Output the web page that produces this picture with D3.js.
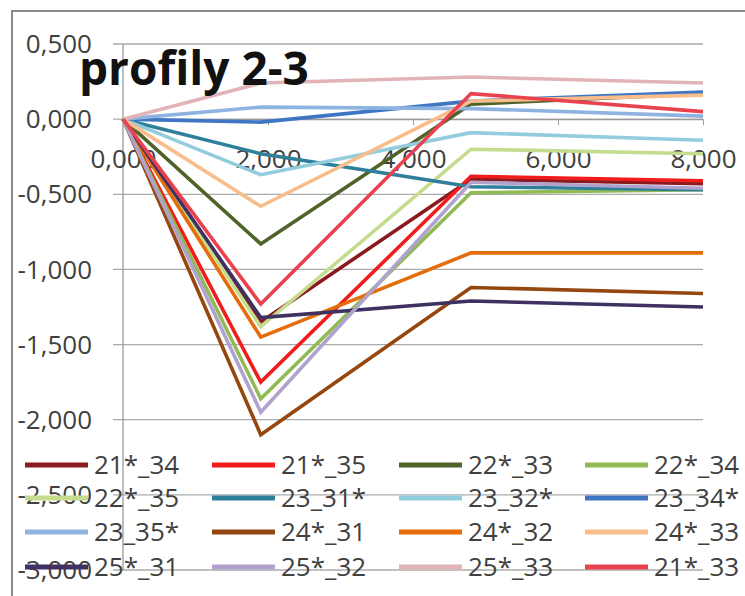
<!DOCTYPE html>
<html><head><meta charset="utf-8">
<script src="https://cdn.jsdelivr.net/npm/d3@7/dist/d3.min.js"></script>
<style>body{margin:0;background:#fff;} svg{display:block;}</style>
</head><body>
<svg id="c" width="745" height="596"></svg>
<script>
const xValues = [0, 1.9, 4.8, 8];
const seriesNames = ["21*_34","21*_35","22*_33","22*_34","22*_35","23_31*","23_32*","23_34*","23_35*","24*_31","24*_32","24*_33","25*_31","25*_32","25*_33","21*_33"];
const seriesColors = ["#8b1a1f","#f21c1c","#4f6228","#8fba54","#c5dc8e","#2f7f9a","#93cddd","#3f76c4","#8fb3e0","#94470f","#e46c0a","#f9bd8c","#3f3161","#b0a2cc","#e2b4b8","#e8424f"];
const s21_34 = [0, -1.35, -0.40, -0.43];
const s21_35 = [0, -1.75, -0.38, -0.41];
const s22_33 = [0, -0.83, 0.10, 0.17];
const s22_34 = [0, -1.86, -0.49, -0.47];
const s22_35 = [0, -1.38, -0.20, -0.23];
const s23_31 = [0, -0.23, -0.45, -0.47];
const s23_32 = [0, -0.37, -0.09, -0.14];
const s23_34 = [0, -0.02, 0.12, 0.18];
const s23_35 = [0, 0.08, 0.07, 0.02];
const s24_31 = [0, -2.10, -1.12, -1.16];
const s24_32 = [0, -1.45, -0.89, -0.89];
const s24_33 = [0, -0.58, 0.12, 0.16];
const s25_31 = [0, -1.32, -1.21, -1.25];
const s25_32 = [0, -1.95, -0.42, -0.46];
const s25_33 = [0, 0.24, 0.28, 0.24];
const s21_33 = [0, -1.23, 0.17, 0.05];
const seriesValues = [s21_34,s21_35,s22_33,s22_34,s22_35,s23_31,s23_32,s23_34,s23_35,s24_31,s24_32,s24_33,s25_31,s25_32,s25_33,s21_33];
const yTicks = [0.5, 0, -0.5, -1, -1.5, -2, -2.5, -3];
const xTicks = [0, 2, 4, 6, 8];
const titleText = "profily 2-3";

const svg = d3.select("#c");
const loc = d3.formatLocale({decimal: ",", thousands: ".", grouping: [3], currency: ["", ""], minus: "-"});
const fmt = loc.format(".3f");

const x = d3.scaleLinear().domain([0, 8]).range([123, 703]);
const y = d3.scaleLinear().domain([-3, 0.5]).range([570, 44]);

// chart border
svg.append("rect").attr("x", 12).attr("y", 11).attr("width", 800).attr("height", 700)
  .attr("fill", "none").attr("stroke", "#8a8a8a").attr("stroke-width", 2);

// gridlines
const grid = svg.append("g");
grid.selectAll("line").data(yTicks).join("line")
  .attr("x1", x(0) - 10).attr("x2", x(8))
  .attr("y1", d => y(d)).attr("y2", d => y(d))
  .attr("stroke", "#ababab").attr("stroke-width", 1.3);

// y axis line
svg.append("line").attr("x1", x(0)).attr("x2", x(0)).attr("y1", y(0.5)).attr("y2", y(-3))
  .attr("stroke", "#9a9a9a").attr("stroke-width", 1.3);

// y labels
svg.append("g").selectAll("text").data(yTicks).join("text")
  .attr("x", 92).attr("y", d => y(d)).attr("dy", "0.35em")
  .attr("text-anchor", "end")
  .attr("font-family", "Open Sans, sans-serif").attr("font-size", 26).attr("fill", "#404040")
  .text(d => fmt(d));

// x axis at y=0
const xAxis = d3.axisBottom(x).tickValues(xTicks).tickFormat(d => fmt(d)).tickSize(6).tickSizeOuter(0);
const xg = svg.append("g").attr("transform", `translate(0,${y(0)})`).call(xAxis);
xg.select(".domain").attr("stroke", "#9a9a9a").attr("stroke-width", 1.3);
xg.selectAll(".tick line").attr("stroke", "#9a9a9a");
xg.selectAll(".tick text").attr("font-family", "Open Sans, sans-serif").attr("font-size", 26)
  .attr("fill", "#404040").attr("y", 40).attr("dy", "0.35em");

// series
const line = d3.line().x((d, i) => x(xValues[i])).y(d => y(d));
svg.append("g").selectAll("path").data(seriesValues).join("path")
  .attr("d", d => line(d)).attr("fill", "none")
  .attr("stroke", (d, i) => seriesColors[i]).attr("stroke-width", 3.6)
  .attr("stroke-linejoin", "miter");

// title
svg.append("text").attr("x", 79).attr("y", 85)
  .attr("font-family", "Open Sans, sans-serif").attr("font-weight", "bold").attr("font-size", 46)
  .attr("fill", "#111").text(titleText);

// legend
const legX = [25, 212, 399, 585];
const legY = [465, 498, 532, 567];
const leg = svg.append("g");
seriesNames.forEach((n, i) => {
  const cx = legX[i % 4], cy = legY[Math.floor(i / 4)];
  leg.append("line").attr("x1", cx).attr("x2", cx + 63).attr("y1", cy).attr("y2", cy)
    .attr("stroke", seriesColors[i]).attr("stroke-width", 5);
  leg.append("text").attr("x", cx + 69).attr("y", cy)
    .attr("dy", "0.35em").attr("font-family", "Open Sans, sans-serif").attr("font-size", 26)
    .attr("fill", "#404040").text(n);
});
</script>
</body></html>
